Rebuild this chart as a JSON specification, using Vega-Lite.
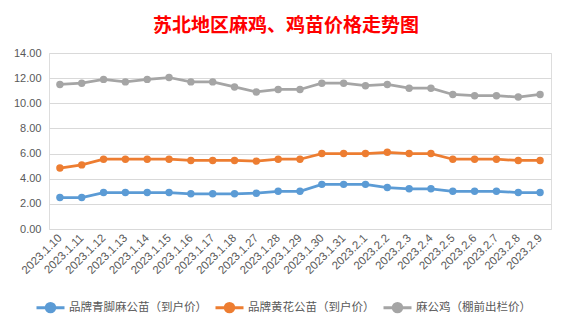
{
  "$schema": "https://vega.github.io/schema/vega-lite/v6.json",
  "autosize": {"type": "none"},
  "width": 502,
  "height": 176,
  "padding": {"left": 49, "top": 53, "right": 18, "bottom": 99},
  "background": "white",
  "title": {
    "text": "苏北地区麻鸡、鸡苗价格走势图",
    "color": "#FF0000",
    "font": "Noto Sans CJK SC",
    "fontSize": 19,
    "fontWeight": "bold",
    "anchor": "middle",
    "frame": "group",
    "dx": -14,
    "offset": 11
  },
  "data": {
    "values": [
      {"date": "2023.1.10", "品牌青脚麻公苗（到户价）": 2.5, "品牌黄花公苗（到户价）": 4.85, "麻公鸡（棚前出栏价）": 11.5},
      {"date": "2023.1.11", "品牌青脚麻公苗（到户价）": 2.5, "品牌黄花公苗（到户价）": 5.1, "麻公鸡（棚前出栏价）": 11.6},
      {"date": "2023.1.12", "品牌青脚麻公苗（到户价）": 2.9, "品牌黄花公苗（到户价）": 5.55, "麻公鸡（棚前出栏价）": 11.9},
      {"date": "2023.1.13", "品牌青脚麻公苗（到户价）": 2.9, "品牌黄花公苗（到户价）": 5.55, "麻公鸡（棚前出栏价）": 11.7},
      {"date": "2023.1.14", "品牌青脚麻公苗（到户价）": 2.9, "品牌黄花公苗（到户价）": 5.55, "麻公鸡（棚前出栏价）": 11.9},
      {"date": "2023.1.15", "品牌青脚麻公苗（到户价）": 2.9, "品牌黄花公苗（到户价）": 5.55, "麻公鸡（棚前出栏价）": 12.05},
      {"date": "2023.1.16", "品牌青脚麻公苗（到户价）": 2.8, "品牌黄花公苗（到户价）": 5.45, "麻公鸡（棚前出栏价）": 11.7},
      {"date": "2023.1.17", "品牌青脚麻公苗（到户价）": 2.8, "品牌黄花公苗（到户价）": 5.45, "麻公鸡（棚前出栏价）": 11.7},
      {"date": "2023.1.18", "品牌青脚麻公苗（到户价）": 2.8, "品牌黄花公苗（到户价）": 5.45, "麻公鸡（棚前出栏价）": 11.3},
      {"date": "2023.1.27", "品牌青脚麻公苗（到户价）": 2.85, "品牌黄花公苗（到户价）": 5.4, "麻公鸡（棚前出栏价）": 10.9},
      {"date": "2023.1.28", "品牌青脚麻公苗（到户价）": 3.0, "品牌黄花公苗（到户价）": 5.55, "麻公鸡（棚前出栏价）": 11.1},
      {"date": "2023.1.29", "品牌青脚麻公苗（到户价）": 3.0, "品牌黄花公苗（到户价）": 5.55, "麻公鸡（棚前出栏价）": 11.1},
      {"date": "2023.1.30", "品牌青脚麻公苗（到户价）": 3.55, "品牌黄花公苗（到户价）": 6.0, "麻公鸡（棚前出栏价）": 11.6},
      {"date": "2023.1.31", "品牌青脚麻公苗（到户价）": 3.55, "品牌黄花公苗（到户价）": 6.0, "麻公鸡（棚前出栏价）": 11.6},
      {"date": "2023.2.1", "品牌青脚麻公苗（到户价）": 3.55, "品牌黄花公苗（到户价）": 6.0, "麻公鸡（棚前出栏价）": 11.4},
      {"date": "2023.2.2", "品牌青脚麻公苗（到户价）": 3.3, "品牌黄花公苗（到户价）": 6.1, "麻公鸡（棚前出栏价）": 11.5},
      {"date": "2023.2.3", "品牌青脚麻公苗（到户价）": 3.2, "品牌黄花公苗（到户价）": 6.0, "麻公鸡（棚前出栏价）": 11.2},
      {"date": "2023.2.4", "品牌青脚麻公苗（到户价）": 3.2, "品牌黄花公苗（到户价）": 6.0, "麻公鸡（棚前出栏价）": 11.2},
      {"date": "2023.2.5", "品牌青脚麻公苗（到户价）": 3.0, "品牌黄花公苗（到户价）": 5.55, "麻公鸡（棚前出栏价）": 10.7},
      {"date": "2023.2.6", "品牌青脚麻公苗（到户价）": 3.0, "品牌黄花公苗（到户价）": 5.55, "麻公鸡（棚前出栏价）": 10.6},
      {"date": "2023.2.7", "品牌青脚麻公苗（到户价）": 3.0, "品牌黄花公苗（到户价）": 5.55, "麻公鸡（棚前出栏价）": 10.6},
      {"date": "2023.2.8", "品牌青脚麻公苗（到户价）": 2.9, "品牌黄花公苗（到户价）": 5.45, "麻公鸡（棚前出栏价）": 10.5},
      {"date": "2023.2.9", "品牌青脚麻公苗（到户价）": 2.9, "品牌黄花公苗（到户价）": 5.45, "麻公鸡（棚前出栏价）": 10.7}
    ]
  },
  "transform": [
    {"fold": ["品牌青脚麻公苗（到户价）", "品牌黄花公苗（到户价）", "麻公鸡（棚前出栏价）"], "as": ["series", "value"]}
  ],
  "mark": {
    "type": "line",
    "strokeWidth": 2.75,
    "point": {"filled": true, "size": 55}
  },
  "encoding": {
    "x": {
      "field": "date",
      "type": "ordinal",
      "sort": null,
      "scale": {"type": "point", "padding": 0.5},
      "axis": {
        "title": null,
        "labelAngle": -45,
        "labelAlign": "right",
        "labelBaseline": "middle",
        "labelFont": "Liberation Sans",
        "labelFontSize": 11.5,
        "labelColor": "#595959",
        "labelPadding": 7,
        "ticks": false,
        "domain": false,
        "grid": false
      }
    },
    "y": {
      "field": "value",
      "type": "quantitative",
      "scale": {"domain": [0, 14], "nice": false, "zero": true},
      "axis": {
        "title": null,
        "values": [0, 2, 4, 6, 8, 10, 12, 14],
        "format": ".2f",
        "labelFont": "Liberation Sans",
        "labelFontSize": 11,
        "labelColor": "#595959",
        "labelPadding": 8,
        "ticks": false,
        "domain": false,
        "grid": true,
        "gridColor": "#D9D9D9",
        "gridWidth": 1
      }
    },
    "color": {
      "field": "series",
      "type": "nominal",
      "scale": {
        "domain": ["品牌青脚麻公苗（到户价）", "品牌黄花公苗（到户价）", "麻公鸡（棚前出栏价）"],
        "range": ["#5B9BD5", "#ED7D31", "#A5A5A5"]
      },
      "legend": {
        "title": null,
        "orient": "none",
        "direction": "horizontal",
        "legendX": -14,
        "legendY": 239,
        "symbolType": "M-1,0L1,0M-0.3,0A0.3,0.3 0 1,1 0.3,0A0.3,0.3 0 1,1 -0.3,0Z",
        "symbolSize": 784,
        "symbolStrokeWidth": 3,
        "labelFont": "Noto Sans CJK SC",
        "labelFontSize": 11.5,
        "labelColor": "#595959",
        "labelOffset": 3,
        "columnPadding": 2,
        "encode": {
          "symbols": {"update": {"fill": {"scale": "color", "field": "value"}}}
        }
      }
    }
  }
}
